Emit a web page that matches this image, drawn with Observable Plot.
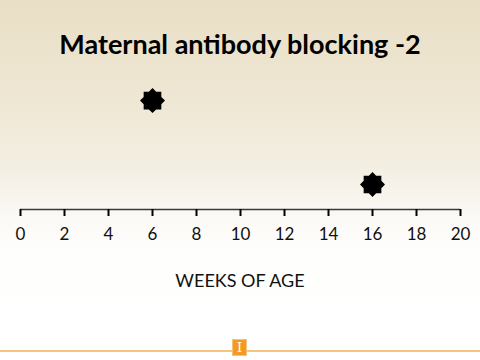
<!DOCTYPE html>
<html>
<head>
<meta charset="utf-8">
<script src="https://cdn.jsdelivr.net/npm/d3@7"></script>
<script src="https://cdn.jsdelivr.net/npm/@observablehq/plot@0.6"></script>
<style>
  html, body { margin: 0; padding: 0; }
  #wrap {
    position: relative; width: 480px; height: 360px; overflow: hidden;
    background: linear-gradient(to bottom, #e9dfc6 0px, #eee6d2 90px, #f4efe3 170px, #fbf9f5 215px, #fefefd 250px, #ffffff 360px);
    font-family: Lato, "Open Sans", sans-serif;
  }
  #title {
    height: 70px; box-sizing: border-box; padding-top: 30px;
    text-align: center; font-weight: bold; font-size: 27px; line-height: 1; color: #000;
  }
  #xlabel {
    position: absolute; top: 271px; left: 0; width: 480px; text-align: center;
    font-size: 18px; color: #111; line-height: 1;
  }
  #rule {
    position: absolute; top: 350px; left: 0; width: 480px; height: 2px; background: #f6c47d;
  }
  #logo {
    position: absolute; left: 232px; top: 339px; width: 15px; height: 17px; box-sizing: border-box;
    background: #f39a25; border: 1px solid #f7c27a; color: #fff;
    font-family: "DejaVu Serif", serif; font-size: 13px; line-height: 15px; text-align: center;
  }
  #chart svg { display: block; }
</style>
</head>
<body>
<div id="wrap">
  <div id="title">Maternal antibody blocking -2</div>
  <div id="chart"></div>
  <div id="xlabel">WEEKS OF AGE</div>
  <div id="rule"></div>
  <div id="logo">I</div>
</div>
<script>
// Data
const weeks = [6, 16];
const level = [2.35, 0.54];
const xTicks = [0, 2, 4, 6, 8, 10, 12, 14, 16, 18, 20];

const points = weeks.map((w, i) => ({week: w, level: level[i]}));

// 8-pointed star (two overlapping squares)
const star8 = {
  draw(context, size) {
    const R = Math.sqrt(size / Math.PI);
    const r = R * 0.765;
    for (let i = 0; i < 16; i++) {
      const a = (i * Math.PI) / 8 - Math.PI / 2;
      const rad = i % 2 === 0 ? R : r;
      const x = rad * Math.cos(a), y = rad * Math.sin(a);
      if (i === 0) context.moveTo(x, y); else context.lineTo(x, y);
    }
    context.closePath();
  }
};

const chart = Plot.plot({
  width: 480,
  height: 180,
  marginTop: 0,
  marginLeft: 20,
  marginRight: 20,
  marginBottom: 41,
  style: {background: "transparent", fontFamily: "Lato, 'Open Sans', sans-serif", fontSize: "17px", color: "#111"},
  x: {domain: [0, 20], ticks: xTicks, label: null},
  y: {domain: [0, 3], axis: null},
  marks: [
    Plot.ruleY([0], {stroke: "#3a3a3a", strokeWidth: 1.6}),
    Plot.axisX({ticks: xTicks, tickSize: 7, tickPadding: 11, stroke: "#000", strokeWidth: 2, strokeOpacity: 1, label: null, fontSize: 17, fill: "#111"}),
    Plot.dot(points, {x: "week", y: "level", symbol: star8, r: 12.5, fill: "#000", stroke: "none"})
  ]
});
document.getElementById("chart").appendChild(chart);
</script>
</body>
</html>
